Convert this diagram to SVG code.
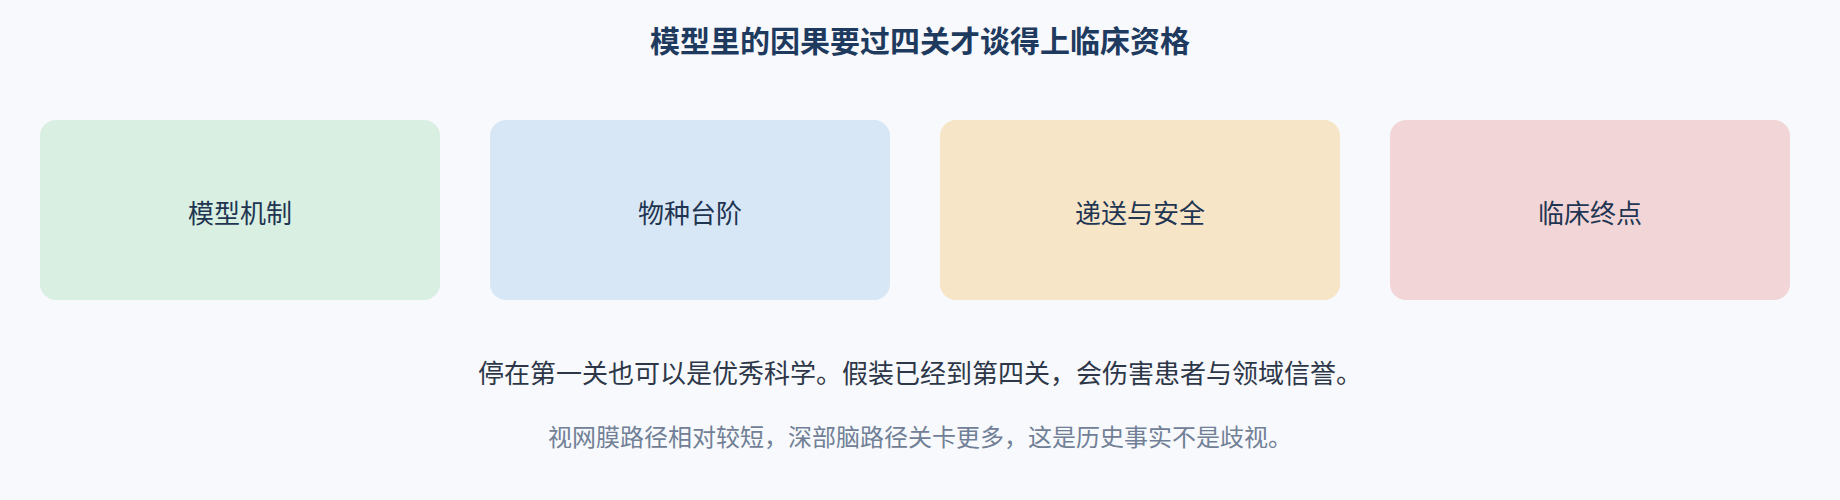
<svg xmlns="http://www.w3.org/2000/svg" width="1840" height="500" viewBox="0 0 1840 500">
<style>
.bg{fill:#f7f9fc}
.title{font-family:"Noto Sans CJK SC","Liberation Sans",sans-serif;font-size:30px;font-weight:700;fill:#1e3a5f;text-anchor:middle;dominant-baseline:central}
.box{rx:16;ry:16}
.lbl{font-family:"Noto Sans CJK SC","Liberation Sans",sans-serif;font-size:26px;fill:#1f3552;text-anchor:middle;dominant-baseline:central}
.note{font-family:"Noto Sans CJK SC","Liberation Sans",sans-serif;font-size:26px;fill:#2d3748;text-anchor:middle;dominant-baseline:central}
.sub{font-family:"Noto Sans CJK SC","Liberation Sans",sans-serif;font-size:24px;fill:#718096;text-anchor:middle;dominant-baseline:central}
</style>
<rect class="bg" x="0" y="0" width="1840" height="500"/>
<text class="title" x="920" y="39">模型里的因果要过四关才谈得上临床资格</text>
<g id="node-mechanism">
<rect class="box" x="40" y="120" width="400" height="180" fill="#d8efe2"/>
<text class="lbl" x="240" y="211">模型机制</text>
</g>
<g id="node-species">
<rect class="box" x="490" y="120" width="400" height="180" fill="#d8e7f6"/>
<text class="lbl" x="690" y="211">物种台阶</text>
</g>
<g id="node-delivery">
<rect class="box" x="940" y="120" width="400" height="180" fill="#f7e5c8"/>
<text class="lbl" x="1140" y="211">递送与安全</text>
</g>
<g id="node-clinical">
<rect class="box" x="1390" y="120" width="400" height="180" fill="#f2d5d7"/>
<text class="lbl" x="1590" y="211">临床终点</text>
</g>
<g id="connectors"></g>
<text class="note" x="920" y="371">停在第一关也可以是优秀科学。假装已经到第四关，会伤害患者与领域信誉。</text>
<text class="sub" x="920" y="435">视网膜路径相对较短，深部脑路径关卡更多，这是历史事实不是歧视。</text>
</svg>
